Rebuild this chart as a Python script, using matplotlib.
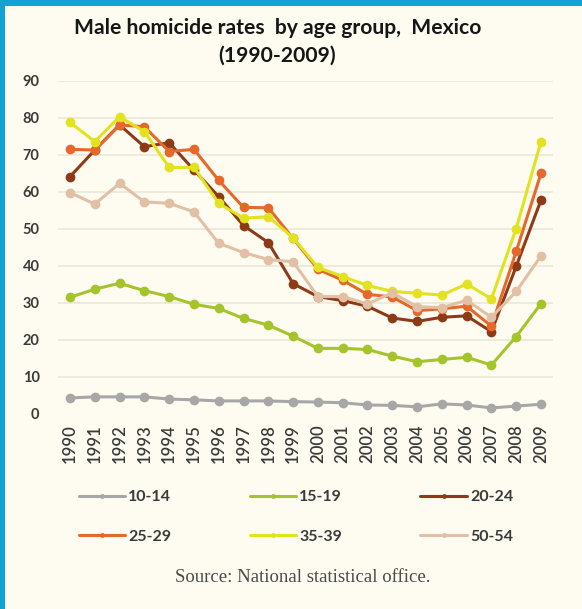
import matplotlib
matplotlib.use("Agg")
import matplotlib.pyplot as plt
from matplotlib.patches import Rectangle

years = list(range(1990, 2010))

age_groups = ["10-14", "15-19", "20-24", "25-29", "35-39", "50-54"]

rate_10_14 = [4.2, 4.5, 4.5, 4.5, 3.9, 3.7, 3.4, 3.4, 3.4, 3.2,
              3.1, 2.9, 2.3, 2.2, 1.8, 2.6, 2.3, 1.5, 2.0, 2.5]
rate_15_19 = [31.4, 33.6, 35.2, 33.2, 31.6, 29.5, 28.4, 25.7, 23.9, 20.9,
              17.6, 17.6, 17.3, 15.5, 14.0, 14.6, 15.2, 13.1, 20.8, 29.7]
rate_20_24 = [64.0, 71.2, 78.0, 72.1, 73.2, 65.8, 58.6, 50.8, 46.2, 35.1,
              31.6, 30.5, 29.0, 25.8, 24.9, 26.0, 26.4, 22.1, 39.8, 57.7]
rate_25_29 = [71.4, 71.2, 78.0, 77.5, 70.8, 71.4, 63.0, 55.7, 55.6, 47.3,
              39.0, 36.0, 32.2, 31.5, 27.8, 28.3, 29.0, 23.6, 43.8, 64.9]
rate_35_39 = [78.7, 73.5, 80.2, 76.2, 66.5, 66.5, 56.8, 52.8, 53.2, 47.5,
              39.5, 37.0, 34.6, 33.0, 32.5, 32.0, 35.0, 31.0, 50.0, 73.5]
rate_50_54 = [59.7, 56.6, 62.2, 57.2, 56.8, 54.5, 46.0, 43.5, 41.6, 41.0,
              31.6, 31.6, 29.6, 32.6, 28.9, 28.6, 30.6, 26.0, 33.0, 42.6]

series = [rate_10_14, rate_15_19, rate_20_24, rate_25_29, rate_35_39, rate_50_54]
colors = ["#A7A7A7", "#A5C42C", "#8E3A17", "#E4692B", "#E2E21E", "#E2C0A6"]

y_ticks = [0, 10, 20, 30, 40, 50, 60, 70, 80, 90]

bg = "#FEFCF0"
text_col = "#3A3A3A"

W, H = 582, 609
fig = plt.figure(figsize=(W / 100, H / 100), dpi=100, facecolor=bg)

# blue frame along the top and left edges
fig.patches.append(Rectangle((0, 1 - 6 / H), 1, 6 / H, transform=fig.transFigure,
                             facecolor="#12A2D6", edgecolor="none", zorder=0))
fig.patches.append(Rectangle((0, 0), 5 / W, 1, transform=fig.transFigure,
                             facecolor="#12A2D6", edgecolor="none", zorder=0))

ax = fig.add_axes([57.6 / W, (H - 413.5) / H, 495.8 / W, 333 / H])
ax.set_facecolor(bg)

x = list(range(len(years)))
draw_order = [0, 1, 5, 2, 3, 4]
lines = {}
for i in draw_order:
    ln, = ax.plot(x, series[i], color=colors[i], lw=2.2, marker="o",
                  markersize=7, markeredgewidth=0, label=age_groups[i],
                  solid_capstyle="round", zorder=3 + i)
    lines[i] = ln

ax.set_xlim(-0.5, len(years) - 0.5)
ax.set_ylim(0, 90)
ax.set_yticks(y_ticks)
ax.set_yticklabels([str(v) for v in y_ticks])
ax.set_xticks(x)
ax.set_xticklabels([str(y) for y in years], rotation=90)

for v in y_ticks[1:]:
    ax.axhline(v, color="#ECEADA", lw=1.3, zorder=1)

for s in ax.spines.values():
    s.set_visible(False)
ax.tick_params(axis="both", length=0, colors=text_col)
ax.tick_params(axis="y", pad=13, labelsize=10.5)
ax.tick_params(axis="x", pad=8, labelsize=12)
for lab in ax.get_yticklabels():
    lab.set_fontfamily("Lato")
    lab.set_fontweight("bold")
for lab in ax.get_xticklabels():
    lab.set_fontfamily("Lato")
    lab.set_fontweight("semibold")

fig.text(278 / W, 1 - 28 / H, "Male homicide rates  by age group,  Mexico",
         ha="center", va="center", fontsize=15.2, fontweight="bold",
         family="Lato", color="#161616")
fig.text(277 / W, 1 - 56 / H, "(1990-2009)", ha="center", va="center",
         fontsize=15.2, fontweight="bold", family="Lato", color="#161616")

# legend laid out row by row: three columns, two rows
order = [0, 3, 1, 4, 2, 5]
handles = [lines[i] for i in order]
labels = [age_groups[i] for i in order]
leg = fig.legend(handles, labels, ncol=3, loc="center",
                 bbox_to_anchor=(296 / W, 1 - 517 / H), frameon=False,
                 handlelength=2.9, handletextpad=0.2, columnspacing=4.9,
                 labelspacing=1.6, markerscale=0.5,
                 prop={"family": "Lato", "weight": "bold", "size": 11.5})
for t in leg.get_texts():
    t.set_color(text_col)

fig.text(303 / W, 1 - 578 / H, "Source: National statistical office.",
         ha="center", va="center", fontsize=13.5, family="Liberation Serif",
         color="#4A4A4A")

fig.savefig("out.png", dpi=100, facecolor=bg)
